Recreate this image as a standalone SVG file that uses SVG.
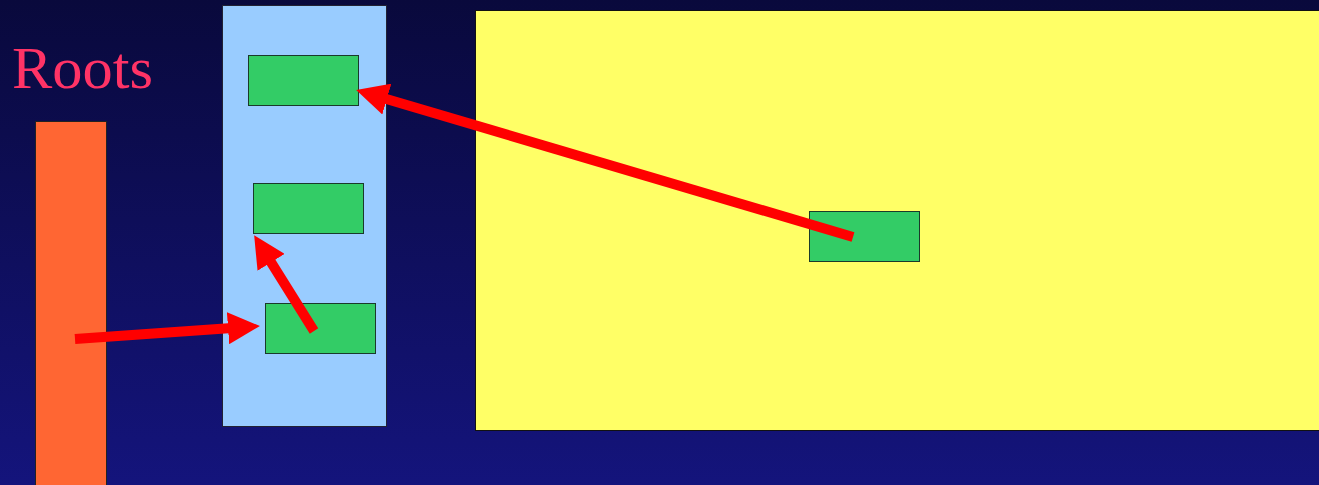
<svg xmlns="http://www.w3.org/2000/svg" width="1319" height="485" viewBox="0 0 1319 485">
<defs>
<linearGradient id="bg" x1="0" y1="0" x2="0" y2="1">
<stop offset="0" stop-color="#09093c"/>
<stop offset="1" stop-color="#14147c"/>
</linearGradient>
<marker id="ah" markerUnits="userSpaceOnUse" markerWidth="32" markerHeight="32" refX="4" refY="16" orient="auto" viewBox="0 0 32 32">
<path d="M0,0 L32,16 L0,32 z" fill="#ff0000"/>
</marker>
<style>
.obj{fill:#33cc66;stroke:#1a3a2a;stroke-width:1}
.edge{stroke:#ff0000;stroke-width:10;fill:none;marker-end:url(#ah)}
.lbl{font-family:"Liberation Serif","Times New Roman","DejaVu Serif","Noto Serif",serif;font-size:60px;fill:#ff3366}
</style>
</defs>
<rect x="0" y="0" width="1319" height="485" fill="url(#bg)"/>
<g id="roots-label"><text class="lbl" x="12" y="88" textLength="141" lengthAdjust="spacingAndGlyphs">Roots</text></g>
<g id="roots"><rect x="35.5" y="121.5" width="71" height="370" fill="#ff6633" stroke="#222" stroke-width="1"/></g>
<g id="space-a"><rect x="222.5" y="5.5" width="164" height="421" fill="#99ccff" stroke="#223" stroke-width="1"/></g>
<g id="space-b"><rect x="475.5" y="10.5" width="850" height="420" fill="#ffff66" stroke="#111" stroke-width="1"/></g>
<g id="obj1"><rect class="obj" x="248.5" y="55.5" width="110" height="50"/></g>
<g id="obj2"><rect class="obj" x="253.5" y="183.5" width="110" height="50"/></g>
<g id="obj3"><rect class="obj" x="265.5" y="303.5" width="110" height="50"/></g>
<g id="obj4"><rect class="obj" x="809.5" y="211.5" width="110" height="50"/></g>
<g id="connectors">
<line class="edge" x1="75" y1="339" x2="232" y2="328"/>
<line class="edge" x1="314" y1="331" x2="269" y2="259"/>
<line class="edge" x1="853" y1="237" x2="383" y2="98"/>
</g>
</svg>
